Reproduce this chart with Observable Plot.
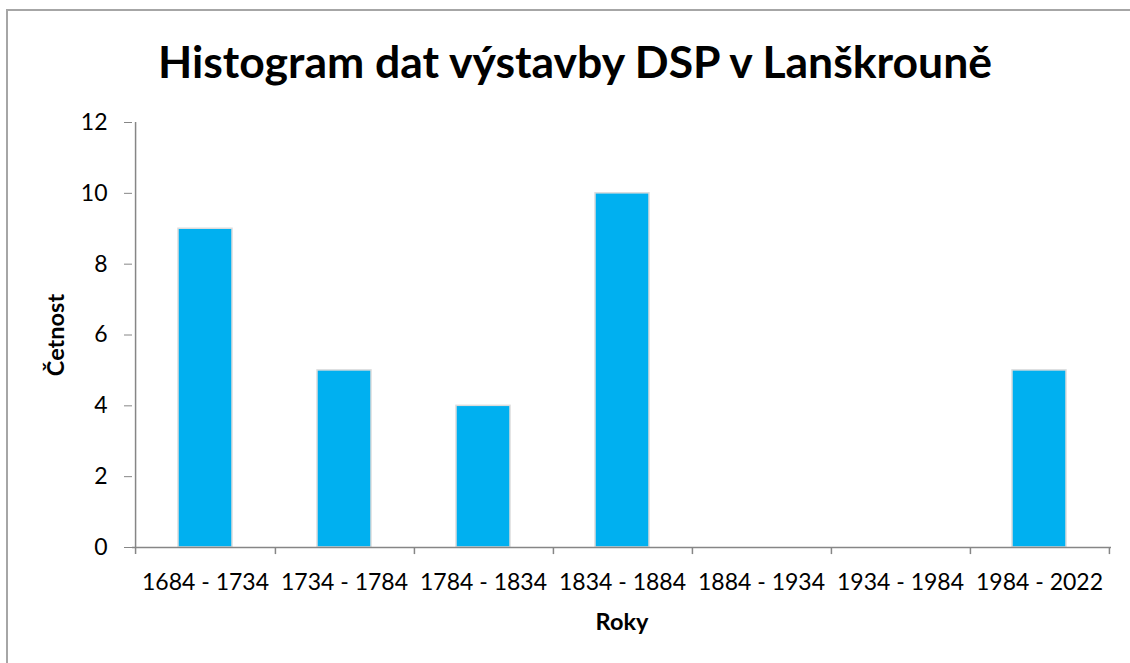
<!DOCTYPE html>
<html>
<head>
<meta charset="utf-8">
<script src="https://cdn.jsdelivr.net/npm/d3@7"></script>
<script src="https://cdn.jsdelivr.net/npm/@observablehq/plot@0.6"></script>
<style>
  html, body { margin: 0; padding: 0; background: #fff; }
  #wrap { position: relative; width: 1130px; height: 663px; overflow: hidden; font-family: Lato, "Open Sans", sans-serif; }
  #frame { position: absolute; left: 6px; top: 9px; width: 1200px; height: 700px; border-top: 2px solid #a6a6a6; border-left: 2px solid #a6a6a6; }
  #title { position: absolute; left: 0; top: 35px; width: 1150px; text-align: center; font-weight: bold; font-size: 44.5px; color: #000; line-height: 52px; }
  #chart { position: absolute; left: 0; top: 0; }
</style>
</head>
<body>
<div id="wrap">
  <div id="frame"></div>
  <div id="chart"></div>
  <div id="title">Histogram dat výstavby DSP v Lanškrouně</div>
</div>
<script>
const categories = ["1684 - 1734", "1734 - 1784", "1784 - 1834", "1834 - 1884", "1884 - 1934", "1934 - 1984", "1984 - 2022"];
const counts = [9, 5, 4, 10, 0, 0, 5];
const yTicks = [0, 2, 4, 6, 8, 10, 12];

const data = categories.map((c, i) => ({category: c, count: counts[i]}));

const W = 1130, H = 663;
const mL = 132, mR = 19, mT = 122, mB = 116;
const step = (W - mL - mR) / categories.length;
const axisGray = "#868686";

const chart = Plot.plot({
  width: W,
  height: H,
  marginLeft: mL,
  marginRight: mR,
  marginTop: mT,
  marginBottom: mB,
  style: {fontFamily: "Lato, 'Open Sans', sans-serif", fontSize: "23px", color: "#000", background: "transparent"},
  x: {domain: categories, paddingInner: 0.614, paddingOuter: 0.307},
  y: {domain: [0, 12]},
  marks: [
    Plot.barY(data, {x: "category", y: "count", fill: "#00B0F0", stroke: "#dcdcdc", strokeWidth: 1.5}),
    Plot.ruleY([0], {stroke: axisGray, strokeWidth: 1.5}),
    Plot.ruleX([categories[0]], {dx: -step / 2, y1: -0.2, y2: 12, stroke: axisGray, strokeWidth: 1.5}),
    Plot.ruleX(categories, {dx: step / 2, y1: -0.2, y2: 0, stroke: axisGray, strokeWidth: 1.5}),
    Plot.axisY({ticks: yTicks, tickSize: 8, tickPadding: 17, fontSize: 23, stroke: axisGray, label: null}),
    Plot.axisX({tickSize: 0, tickPadding: 26, fontSize: 23, label: null}),
    Plot.text(["Četnost"], {frameAnchor: "left", textAnchor: "middle", lineAnchor: "middle", dx: -76, rotate: -90, fontWeight: "bold", fontSize: 23.5}),
    Plot.text(["Roky"], {frameAnchor: "bottom", lineAnchor: "bottom", dy: 82, fontWeight: "bold", fontSize: 23.5})
  ]
});
document.getElementById("chart").appendChild(chart);
</script>
</body>
</html>
